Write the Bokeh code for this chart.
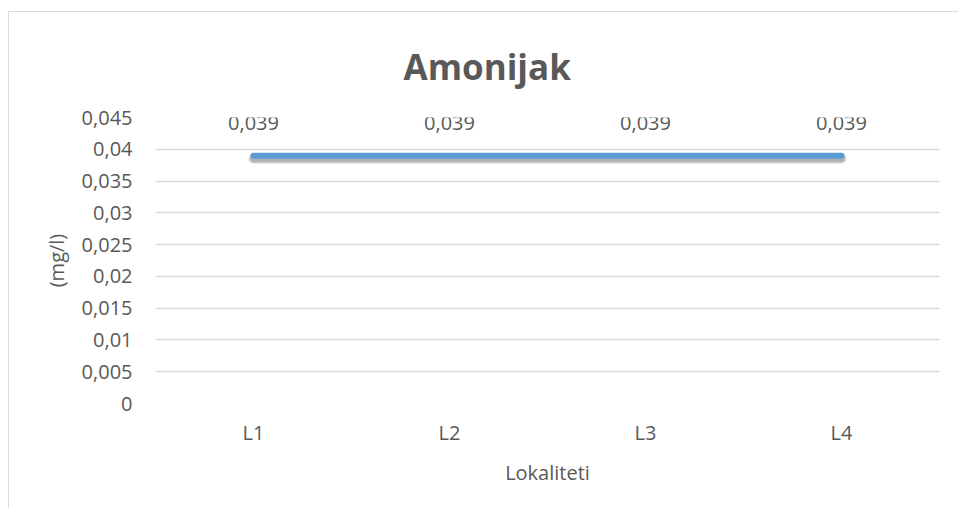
from bokeh.plotting import figure
from bokeh.models import (ColumnDataSource, FactorRange, Range1d, FixedTicker,
                          CustomJSTickFormatter, LabelSet)
from bokeh.core.properties import value
from bokeh.embed import file_html
from bokeh.resources import INLINE

# ---- data ----
categories = ["L1", "L2", "L3", "L4"]
values = [0.039, 0.039, 0.039, 0.039]
y_ticks = [0, 0.005, 0.01, 0.015, 0.02, 0.025, 0.03, 0.035, 0.04, 0.045]
title_text = "Amonijak"
x_title = "Lokaliteti"
y_title = "(mg/l)"

labels = [f"{v:g}".replace(".", ",") for v in values]
source = ColumnDataSource(dict(x=categories, y=values, label=labels))

FONT = "Open Sans"
GREY = "#595959"
GRID = "#d9d9d9"
BLUE = "#5B9BD5"

p = figure(frame_width=784, frame_height=286,
           x_range=FactorRange(*categories, range_padding=0),
           y_range=Range1d(0, 0.045), output_backend="svg", toolbar_location=None,
           min_border_left=146, min_border_right=19, min_border_top=104,
           min_border_bottom=105)
p.margin = (11, 0, 0, 8)
p.styles = {"border-top": "1px solid #d9d9d9", "border-left": "1px solid #d9d9d9"}
p.outline_line_color = None
p.background_fill_color = "white"
p.border_fill_color = "white"

# title
p.title.text = title_text
p.title.text_font = FONT
p.title.text_font_size = "35px"
p.title.text_font_style = "bold"
p.title.text_color = GREY
p.title.align = "left"
p.title.offset = 248
p.title.standoff = 56

# shadow range (shifted by ~3px)
shift = 0.045 * 3 / 286
p.extra_y_ranges = {"shadow": Range1d(shift, 0.045 + shift)}

# grid
p.xgrid.grid_line_color = None
p.ygrid.grid_line_color = GRID
p.ygrid.grid_line_width = 1.3
p.yaxis.ticker = FixedTicker(ticks=y_ticks)

# axes
for ax in (p.xaxis[0], p.yaxis[0]):
    ax.axis_line_color = None
    ax.major_tick_line_color = None
    ax.minor_tick_line_color = None
    ax.major_tick_out = 0
    ax.major_tick_in = 0
    ax.major_label_text_font = FONT
    ax.major_label_text_font_size = "20px"
    ax.major_label_text_color = GREY
    ax.axis_label_text_font = FONT
    ax.axis_label_text_font_size = "20px"
    ax.axis_label_text_color = GREY
    ax.axis_label_text_font_style = "normal"

p.yaxis.formatter = CustomJSTickFormatter(code="""
    let s = tick.toFixed(3).replace(/0+$/, '').replace(/\\.$/, '');
    return s.replace('.', ',');
""")
p.yaxis.major_label_standoff = 23
p.yaxis.axis_label = y_title
p.yaxis.axis_label_standoff = 9

p.xaxis.major_label_standoff = 15
p.xaxis.axis_label = x_title
p.xaxis.axis_label_standoff = 10

# shadow then line
for w, a in [(11, 0.06), (9, 0.1), (7, 0.16)]:
    p.line("x", "y", source=source, y_range_name="shadow", line_width=w,
           line_color="black", line_alpha=a, line_cap="round")
p.line("x", "y", source=source, line_width=6, line_color=BLUE, line_cap="round")

# data labels
ls = LabelSet(x="x", y="y", text="label", source=source, text_align="center",
              text_baseline="middle", y_offset=33, text_font=value(FONT),
              text_font_size=value("20px"), text_color=GREY)
p.add_layout(ls)

open("out.html", "w").write(file_html(p, INLINE))
